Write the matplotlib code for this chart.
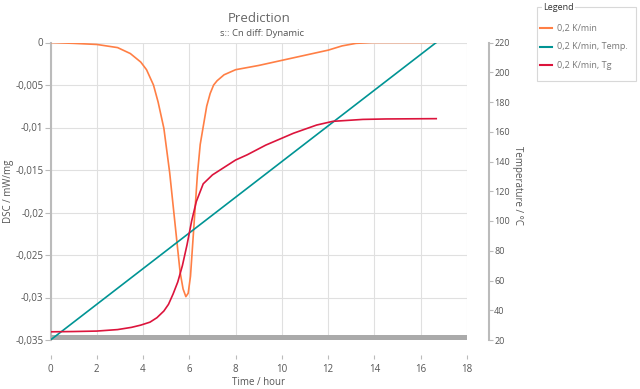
import matplotlib
matplotlib.use('Agg')
import matplotlib.pyplot as plt
from matplotlib.ticker import FuncFormatter
from matplotlib.lines import Line2D
from matplotlib.patches import Rectangle

plt.rcParams['font.family'] = ['Open Sans', 'DejaVu Sans']

# DSC curve (0,2 K/min)
dsc_time = [0, 1.0, 2.0, 2.9, 3.45, 3.9, 4.15, 4.45, 4.65, 4.9, 5.15, 5.3, 5.45, 5.6,
            5.73, 5.85, 5.95, 6.05, 6.15, 6.25, 6.35, 6.47, 6.6, 6.75, 6.9, 7.05, 7.2,
            7.5, 8.0, 9.0, 10.0, 11.0, 12.0, 12.6, 13.2, 13.9, 15.0, 16.67]
dsc_val = [0, -0.0001, -0.00023, -0.0006, -0.0013, -0.0023, -0.0032, -0.005, -0.007,
           -0.0101, -0.0153, -0.0192, -0.0231, -0.027, -0.029, -0.0299, -0.0295, -0.0275,
           -0.0235, -0.0195, -0.0155, -0.012, -0.0099, -0.0075, -0.006, -0.005, -0.0045,
           -0.0038, -0.0032, -0.0027, -0.0021, -0.0015, -0.0009, -0.0004, -0.0001, 0, 0, 0]

# temperature program
temp_time = [0, 16.67]
temp_val = [20, 220]

# Tg curve
tg_time = [0, 1.0, 2.0, 2.9, 3.5, 3.9, 4.3, 4.6, 4.9, 5.1, 5.3, 5.5, 5.7, 5.9, 6.1, 6.3,
           6.6, 7.0, 7.5, 8.0, 8.5, 9.3, 10.5, 11.5, 12.2, 13.5, 14.5, 16.67]
tg_val = [25.5, 25.7, 26, 27, 28.5, 30, 32, 35, 39.5, 44, 51, 59, 70, 84, 100, 113,
          125, 131, 136, 141, 144.5, 151, 159, 164.5, 167, 168.3, 168.6, 168.8]

labels = ['0,2 K/min', '0,2 K/min, Temp.', '0,2 K/min, Tg']
colors = ['#ff7f45', '#009494', '#dc143c']

W, H = 640, 389
fig = plt.figure(figsize=(6.4, 3.89), dpi=100)
x0, x1, y0, y1 = 50.5, 467, 42.5, 340
ax = fig.add_axes([x0 / W, 1 - y1 / H, (x1 - x0) / W, (y1 - y0) / H])
ax2 = ax.twinx()

txt = '#555555'
axc = '#bbbbbb'

ax.plot(dsc_time, dsc_val, color=colors[0], lw=1.2, zorder=3)
ax2.plot(temp_time, temp_val, color=colors[1], lw=1.2)
ax2.plot(tg_time, tg_val, color=colors[2], lw=1.2)

ax.set_xlim(0, 18)
ax.set_ylim(-0.035, 0)
ax2.set_ylim(20, 220)
ax.set_xticks(range(0, 19, 2))
ax.set_yticks([0, -0.005, -0.01, -0.015, -0.02, -0.025, -0.03, -0.035])
ax2.set_yticks(range(20, 221, 20))
ax.yaxis.set_major_formatter(FuncFormatter(lambda v, p: '0' if v == 0 else ('%g' % v).replace('.', ',')))

ax.grid(True, color='#e0e0e0', lw=0.8)
ax.set_axisbelow(True)

for s in ['top', 'right']:
    ax.spines[s].set_visible(False)
for s in ['top', 'left', 'bottom']:
    ax2.spines[s].set_visible(False)
ax.spines['left'].set_color(axc)
ax.spines['left'].set_linewidth(1.5)
ax.spines['bottom'].set_position(('outward', 11))
ax.spines['bottom'].set_visible(False)
ax2.spines['right'].set_position(('outward', 16))
ax2.spines['right'].set_color(axc)
ax2.spines['right'].set_linewidth(1.5)

# thick grey band at bottom of plot
ax.add_patch(Rectangle((0, 0), 1, 5 / (y1 - y0), transform=ax.transAxes,
                       color='#aaaaaa', lw=0, zorder=4, clip_on=False))

ax.tick_params(axis='x', colors=axc, labelcolor=txt, labelsize=7, length=3, pad=3)
ax.tick_params(axis='y', colors=axc, labelcolor=txt, labelsize=7, length=4, pad=1)
ax2.tick_params(axis='y', colors=axc, labelcolor=txt, labelsize=6.5, length=3, pad=0.5)

ax.set_xlabel('Time / hour', color=txt, fontsize=7, labelpad=2)
ax.set_ylabel('DSC / mW/mg', color=txt, fontsize=7, labelpad=1)
ax2.set_ylabel('Temperature / °C', color=txt, fontsize=7, rotation=270, va='center')
ax2.yaxis.set_label_coords((518 - x0) / (x1 - x0), 0.52)

fig.text(259 / W, 1 - 18 / H, 'Prediction', ha='center', va='center', fontsize=9.5, color='#666666')
fig.text(262 / W, 1 - 34 / H, 's:: Cn diff: Dynamic', ha='center', va='center', fontsize=6.8, color='#555555')

# legend box, drawn by hand in pixel positions
def px(x, y):
    return x / W, 1 - y / H

lx0, ly0, lx1, ly1 = 536.5, 7, 635.5, 81
fig.add_artist(Rectangle(px(lx0, ly1), (lx1 - lx0) / W, (ly1 - ly0) / H,
                         transform=fig.transFigure, facecolor='white',
                         edgecolor='#d8d8d8', lw=0.8, zorder=5))
for i, (lab, c) in enumerate(zip(labels, colors)):
    yy = 28 + i * 18.5
    fig.add_artist(Line2D([540 / W, 552 / W], [1 - yy / H, 1 - yy / H], color=c, lw=1.5,
                          transform=fig.transFigure, zorder=6))
    fig.text(557 / W, 1 - yy / H, lab, ha='left', va='center', fontsize=6.5,
             color='#777777', zorder=6)
fig.text(543 / W, 1 - 7.5 / H, 'Legend', ha='left', va='center', fontsize=6.5, color='#333333',
         zorder=7, bbox=dict(facecolor='white', edgecolor='none', pad=1))

fig.savefig('out.png', dpi=100)
